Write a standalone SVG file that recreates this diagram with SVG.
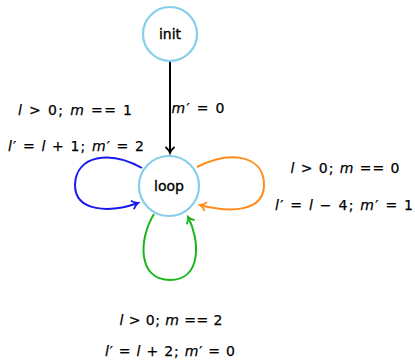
<svg xmlns="http://www.w3.org/2000/svg" width="415" height="360" viewBox="0 0 415 360">
<style>
.node{fill:#fff;stroke:#87ceeb;stroke-width:2.2}
.nl{font-family:"DejaVu Sans","Liberation Sans",sans-serif;font-size:14px;fill:#000;stroke:#000;stroke-width:0.35;text-anchor:middle}
.lb{font-family:"DejaVu Sans","Liberation Sans",sans-serif;font-size:14px;fill:#000;stroke:#000;stroke-width:0.25;text-anchor:middle}
.v{font-style:italic}
.e{fill:none;stroke-width:2}
</style>
<defs>
<marker id="ak" markerWidth="12" markerHeight="12" refX="9" refY="6" orient="auto" markerUnits="userSpaceOnUse"><path d="M3,1.5 Q6,5 9,6 Q6,7 3,10.5" fill="none" stroke="#000" stroke-width="1.8"/></marker>
<marker id="ab" markerWidth="12" markerHeight="12" refX="9" refY="6" orient="auto" markerUnits="userSpaceOnUse"><path d="M3,1.5 Q6,5 9,6 Q6,7 3,10.5" fill="none" stroke="#1a1aee" stroke-width="1.8"/></marker>
<marker id="ao" markerWidth="12" markerHeight="12" refX="9" refY="6" orient="auto" markerUnits="userSpaceOnUse"><path d="M3,1.5 Q6,5 9,6 Q6,7 3,10.5" fill="none" stroke="#ff8c1a" stroke-width="1.8"/></marker>
<marker id="ag" markerWidth="12" markerHeight="12" refX="9" refY="6" orient="auto" markerUnits="userSpaceOnUse"><path d="M3,1.5 Q6,5 9,6 Q6,7 3,10.5" fill="none" stroke="#1ab81a" stroke-width="1.8"/></marker>
</defs>
<g id="connectors">
<path class="e" stroke="#000" d="M170,61 L170,153" marker-end="url(#ak)"/>
<path class="e" stroke="#1a1aee" d="M142,168 C110,150 76,155 75,185 C75,212 110,213 138,203" marker-end="url(#ab)"/>
<path class="e" stroke="#ff8c1a" d="M197,167 C230,150 264,155 264,185 C264,212 230,213 200,205" marker-end="url(#ao)"/>
<path class="e" stroke="#1ab81a" d="M154,214 C138,240 138,280 170,280 C202,280 200,240 188,217" marker-end="url(#ag)"/>
</g>
<g id="init">
<circle class="node" cx="170" cy="34" r="27"/>
<text class="nl" x="170" y="39">init</text>
</g>
<g id="loop">
<circle class="node" cx="169" cy="186" r="30"/>
<text class="nl" x="169" y="191">loop</text>
</g>
<g id="labels">
<text class="lb" x="198" y="113" textLength="53" lengthAdjust="spacing"><tspan class="v">m</tspan>′ = 0</text>
<text class="lb" x="75" y="115" textLength="114" lengthAdjust="spacing"><tspan class="v">l</tspan> &gt; 0; <tspan class="v">m</tspan> == 1</text>
<text class="lb" x="76" y="151" textLength="136" lengthAdjust="spacing"><tspan class="v">l</tspan>′ = <tspan class="v">l</tspan> + 1; <tspan class="v">m</tspan>′ = 2</text>
<text class="lb" x="345" y="173" textLength="109" lengthAdjust="spacing"><tspan class="v">l</tspan> &gt; 0; <tspan class="v">m</tspan> == 0</text>
<text class="lb" x="344" y="210" textLength="138" lengthAdjust="spacing"><tspan class="v">l</tspan>′ = <tspan class="v">l</tspan> − 4; <tspan class="v">m</tspan>′ = 1</text>
<text class="lb" x="171" y="325" textLength="103" lengthAdjust="spacing"><tspan class="v">l</tspan> &gt; 0; <tspan class="v">m</tspan> == 2</text>
<text class="lb" x="170" y="356" textLength="130" lengthAdjust="spacing"><tspan class="v">l</tspan>′ = <tspan class="v">l</tspan> + 2; <tspan class="v">m</tspan>′ = 0</text>
</g>
</svg>
